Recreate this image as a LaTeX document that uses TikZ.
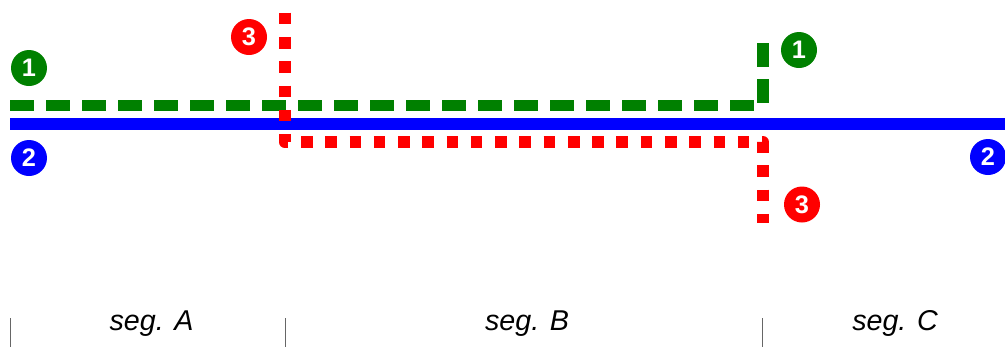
\documentclass[tikz,border=0pt]{standalone}
\usepackage{fontspec}
\setmainfont{Liberation Sans}
\begin{document}
\begin{tikzpicture}[x=0.75pt,y=-0.75pt,
  badge/.style={circle,fill=#1,minimum size=27pt,inner sep=0pt,text=white,
    font=\fontsize{19}{19}\selectfont\bfseries},
  seglabel/.style={anchor=base,font=\fontsize{21.5}{21.5}\selectfont\itshape},
  tick/.style={draw=black!60,line width=0.75pt},
  route1/.style={draw=routegreen,line width=8.5pt,dash pattern=on 18pt off 9pt},
  route2/.style={draw=blue,line width=9pt},
  route3/.style={draw=red,line width=9pt,dash pattern=on 8.7pt off 9.5pt,line join=round}]
\definecolor{routegreen}{RGB}{0,128,0}
\useasboundingbox (0,0) rectangle (1005,347);

% route 2: straight through
\coordinate (b0) at (10,123.5);
\coordinate (b1) at (1010,123.5);
\draw[route2] (b0) -- (b1);

% route 1: along segs A and B, then up
\coordinate (g0) at (10,105.5);
\coordinate (g1) at (763,105.5);
\coordinate (g2) at (763,35);
\draw[route1] (g0) -- (g1) -- (g2);

% route 3: down at the A/B boundary, along seg B, down again
\coordinate (r0) at (284.7,12.7);
\coordinate (r1) at (284.7,142);
\coordinate (r2) at (763,142);
\coordinate (r3) at (763,223);
\draw[route3] (r0) -- (r1) -- (r2) -- (r3);

% route badges
\node[badge=routegreen] (n1a) at (29,68) {1};
\node[badge=routegreen] (n1b) at (799,50) {1};
\node[badge=blue] (n2a) at (29,158) {2};
\node[badge=blue] (n2b) at (988,157) {2};
\node[badge=red] (n3a) at (249,37) {3};
\node[badge=red] (n3b) at (802,204.5) {3};

% segment boundaries and names
\draw[tick] (10,318) -- (10,347);
\draw[tick] (285,318) -- (285,347);
\draw[tick] (762,318) -- (762,347);
\node[seglabel] (sa) at (151.5,330.5) {seg. A};
\node[seglabel] (sb) at (527,330.5) {seg. B};
\node[seglabel] (sc) at (895,330.5) {seg. C};
\end{tikzpicture}
\end{document}
